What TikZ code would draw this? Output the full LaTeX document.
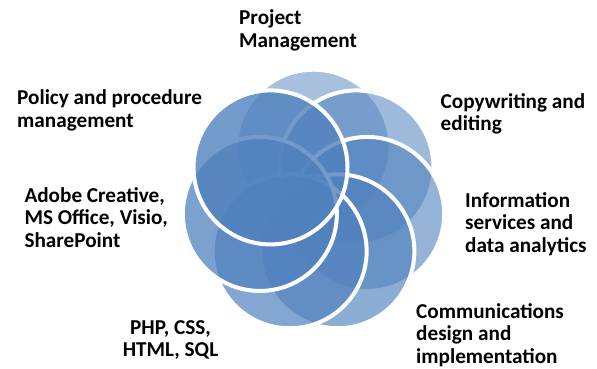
\documentclass[tikz,border=0pt]{standalone}
\usepackage{fontspec}
\setmainfont{Carlito}
\definecolor{petalblue}{RGB}{79,129,189}

\begin{document}
\begin{tikzpicture}[x=1pt, y=-1pt,
	petal/.style={circle, draw=white, line width=4pt, fill=petalblue, minimum size=154pt, inner sep=0pt},
	skill/.style={font=\bfseries\fontsize{21.2}{22.5}\selectfont, align=left, inner sep=0pt, anchor=base west}]
	
	% Keep the page at the size of the reference
	\useasboundingbox (0,0) rectangle (597,368);
	
	% Draw the seven circles clockwise, starting at the top
	\foreach \i [evaluate=\i as \op using 0.45+0.05*\i,
	             evaluate=\i as \ang using 90-(\i-1)*360/7] in {1,...,7}
	\node[petal, fill opacity=\op] (c\i) at ({313.5+55*cos(\ang)},{201.7-55*sin(\ang)}) {};
	
	% Label the circles (base = baseline of the last line)
	\node[skill] (pm) at (239,47) {Project\\Management};
	\node[skill] (cw) at (440.5,130.7) {Copywriting and\\editing};
	\node[skill] (is) at (465,252) {Information\\services and\\data analytics};
	\node[skill] (cd) at (416,363) {Communications\\design and\\implementation};
	\node[skill, align=center, anchor=base] (php) at (170.5,356.7) {PHP, CSS,\\HTML, SQL};
	\node[skill] (ao) at (24.3,247.3) {Adobe Creative,\\MS Office, Visio,\\SharePoint};
	\node[skill] (pp) at (17,127) {Policy and procedure\\management};
	
\end{tikzpicture}
\end{document}
